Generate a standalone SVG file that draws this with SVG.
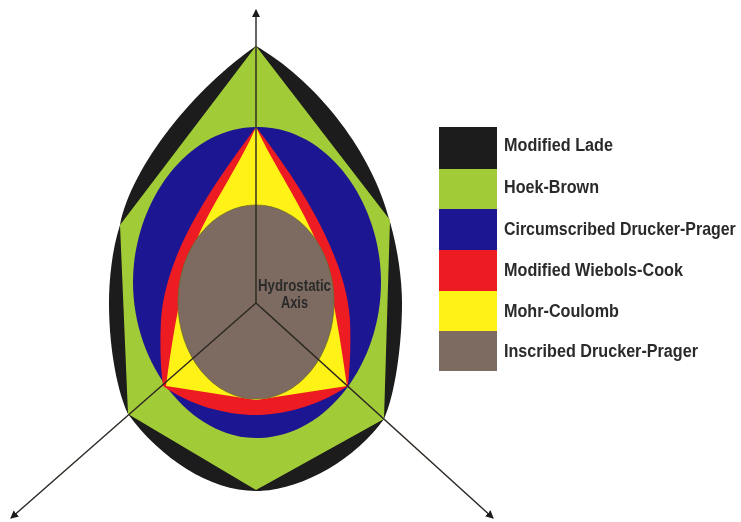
<svg xmlns="http://www.w3.org/2000/svg" width="741" height="522" viewBox="0 0 741 522">
<style>
.lbl{font-family:"Liberation Sans",Arial,sans-serif;font-weight:bold;font-size:18px;fill:#2a2a2a}
.ax{fill:none;stroke:#2b2622;stroke-width:1.4}
.k{fill:#1a1a1a}.g{fill:#a2cb39}.b{fill:#1c1492}.r{fill:#ed1c24}.y{fill:#fff212}.n{fill:#7d6b60}
</style>
<defs>
<marker id="ah" markerWidth="9" markerHeight="10" refX="7" refY="4" orient="auto" markerUnits="userSpaceOnUse"><path d="M0 0L8 4L0 8z" fill="#1a1a1a"/></marker>
<filter id="soft" x="-5%" y="-5%" width="110%" height="110%"><feGaussianBlur stdDeviation="0.45"/></filter>
</defs>
<rect width="741" height="522" fill="#fff"/>
<g filter="url(#soft)">
<g id="modified-lade"><path class="k" d="M256 46C315 80 372 150 390 222C398 250 402 280 402 303C402 345 395 395 384 419C355 460 300 491 256 491C210 491 160 458 128 414C115 385 109 340 109 303C109 280 112 250 120 225C132 165 195 88 256 46Z"/></g>
<g id="hoek-brown"><path class="g" d="M256 46L390 220L384 419L256 490L128 414L120 225Z"/></g>
<g id="circumscribed-drucker-prager"><path class="b" d="M257 127C330 127 381 205 381 282C381 365 325 438 257 438C190 438 133 365 133 282C133 205 185 127 257 127Z"/></g>
<g id="modified-wiebols-cook"><path class="r" d="M256 127C285 165 345 245 350 320C351 345 350 365 348 386C320 405 285 415 256 415C225 415 190 405 163 386C160 365 160 340 161 320C166 245 225 170 256 127Z"/></g>
<g id="mohr-coulomb"><path class="y" d="M256 127C270 158 298 200 312 232C325 258 335 300 347 386L256 400L166 386C172 340 182 275 200 232C215 200 242 160 256 127Z"/></g>
<g id="inscribed-drucker-prager"><ellipse class="n" cx="256" cy="302" rx="78" ry="97" stroke="#6f6a30" stroke-width="0.8"/></g>
<g id="connectors">
<path class="ax" d="M256 303V10" marker-end="url(#ah)"/>
<path class="ax" d="M256 303L11 518" marker-end="url(#ah)"/>
<path class="ax" d="M256 303L493 518" marker-end="url(#ah)"/>
</g>
<g id="hydrostatic-label">
<text class="lbl" x="258" y="291" textLength="73" lengthAdjust="spacingAndGlyphs" style="font-size:16px">Hydrostatic</text>
<text class="lbl" x="281" y="308" textLength="27" lengthAdjust="spacingAndGlyphs" style="font-size:16px">Axis</text>
</g>
<g id="legend">
<rect class="k" x="439" y="127" width="58" height="42"/><rect class="g" x="439" y="169" width="58" height="40"/><rect class="b" x="439" y="209" width="58" height="41"/><rect class="r" x="439" y="250" width="58" height="41"/><rect class="y" x="439" y="291" width="58" height="40"/><rect class="n" x="439" y="331" width="58" height="40"/>
<text class="lbl" x="504" y="151" textLength="109" lengthAdjust="spacingAndGlyphs">Modified Lade</text>
<text class="lbl" x="504" y="193" textLength="95" lengthAdjust="spacingAndGlyphs">Hoek-Brown</text>
<text class="lbl" transform="translate(504 235) scale(0.885 1)" x="0" y="0">Circumscribed Drucker-Prager</text>
<text class="lbl" x="504" y="276" textLength="179" lengthAdjust="spacingAndGlyphs">Modified Wiebols-Cook</text>
<text class="lbl" x="504" y="317" textLength="115" lengthAdjust="spacingAndGlyphs">Mohr-Coulomb</text>
<text class="lbl" x="504" y="357" textLength="194" lengthAdjust="spacingAndGlyphs">Inscribed Drucker-Prager</text>
</g>
</g>
</svg>
